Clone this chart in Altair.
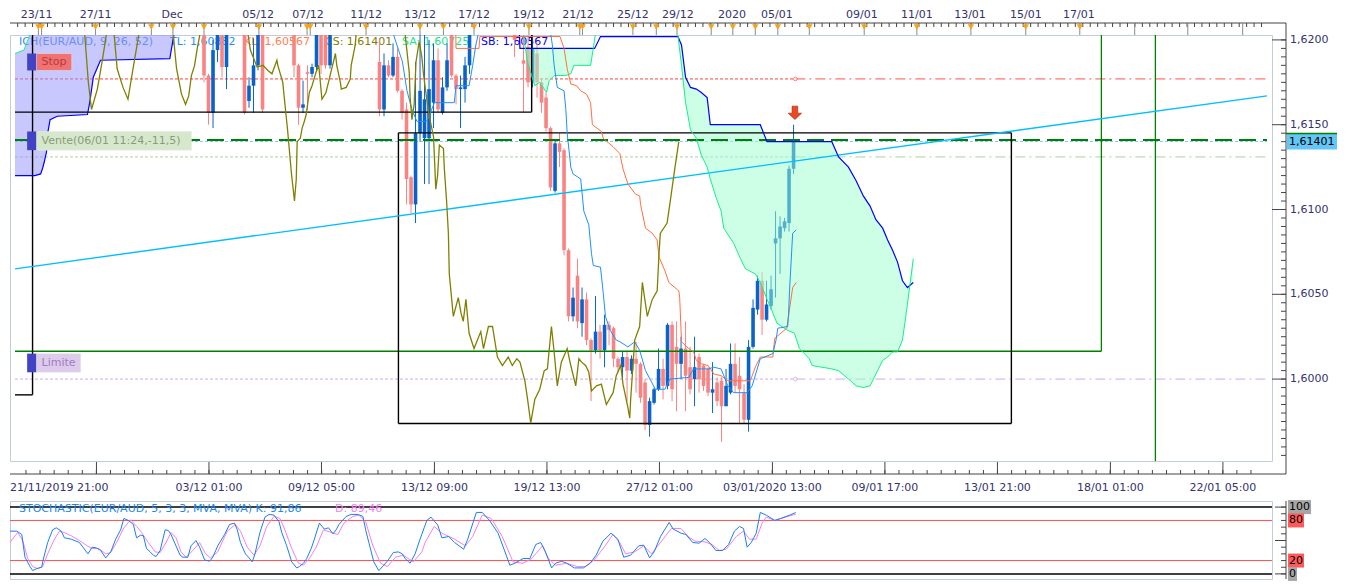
import altair as alt
import numpy as np
import pandas as pd

W, H1, H2 = 1262, 426, 78
XMAX = 278.2
PMIN, PMAX = 1.59517, 1.62029
SMIN, SMAX = -7.6, 109.1
FONT = "DejaVu Sans"
AXC = "#33336e"
TICKC = "#454545"
UP, DOWN = "#0a63c8", "#f98383"

# ---------------- data ----------------
# candles: (bar, open, high, low, close)
candles = [
    (42, 1.6212, 1.6215, 1.6175, 1.6179), (43, 1.6179, 1.6180, 1.6150, 1.6157),
    (44, 1.6157, 1.6200, 1.6148, 1.6194), (45, 1.6194, 1.6215, 1.6187, 1.6210),
    (46, 1.6210, 1.6215, 1.6178, 1.6184), (47, 1.6184, 1.6215, 1.6171, 1.6210),
    (51, 1.6210, 1.6215, 1.6156, 1.6157), (52, 1.6164, 1.6178, 1.6160, 1.6173),
    (53, 1.6173, 1.6201, 1.6157, 1.6185), (54, 1.6185, 1.6215, 1.6182, 1.6210),
    (55, 1.6210, 1.6215, 1.6157, 1.6159),
    (62, 1.6210, 1.6215, 1.6178, 1.6185), (63, 1.6185, 1.6186, 1.6150, 1.6160),
    (64, 1.6160, 1.6176, 1.6157, 1.6162), (65, 1.6181, 1.6185, 1.6159, 1.6180),
    (66, 1.6180, 1.6186, 1.6178, 1.6184), (67, 1.6184, 1.6215, 1.6182, 1.6210),
    (68, 1.6210, 1.6215, 1.6180, 1.6185), (69, 1.6210, 1.6215, 1.6183, 1.6185),
    (70, 1.6185, 1.6215, 1.6183, 1.6210),
    (81, 1.6187, 1.6201, 1.6155, 1.6159), (82, 1.6159, 1.6192, 1.6155, 1.6185),
    (83, 1.6185, 1.6188, 1.6178, 1.6179), (84, 1.6179, 1.6198, 1.6178, 1.6190),
    (85, 1.6190, 1.6195, 1.6169, 1.6170), (86, 1.6170, 1.6171, 1.6153, 1.6157),
    (87, 1.6159, 1.6163, 1.6103, 1.6118), (88, 1.6119, 1.6120, 1.6098, 1.6103),
    (89, 1.6103, 1.6187, 1.6092, 1.6145), (90, 1.6145, 1.6205, 1.6140, 1.6170),
    (91, 1.6142, 1.6205, 1.6115, 1.6165), (92, 1.6142, 1.6200, 1.6115, 1.6171),
    (93, 1.6163, 1.6198, 1.6148, 1.6188), (94, 1.6188, 1.6195, 1.6157, 1.6159),
    (95, 1.6157, 1.6178, 1.6156, 1.6172), (96, 1.6172, 1.6198, 1.6170, 1.6188),
    (97, 1.6205, 1.6210, 1.6178, 1.6179), (98, 1.6179, 1.6180, 1.6162, 1.6171),
    (99, 1.6171, 1.6179, 1.6148, 1.6172), (100, 1.6171, 1.6190, 1.6163, 1.6185),
    (101, 1.6185, 1.6215, 1.6180, 1.6210), (111, 1.6210, 1.6215, 1.6190, 1.6200),
    (113, 1.6188, 1.6205, 1.6157, 1.6186), (114, 1.6196, 1.6205, 1.6172, 1.6175),
    (115, 1.6175, 1.6204, 1.6172, 1.6195), (116, 1.6192, 1.6198, 1.6166, 1.6175),
    (117, 1.6175, 1.6177, 1.6157, 1.6163), (118, 1.6166, 1.6169, 1.6146, 1.6148),
    (119, 1.6148, 1.6149, 1.6111, 1.6113), (120, 1.6111, 1.6141, 1.6110, 1.6139),
    (121, 1.6139, 1.6145, 1.6125, 1.6134), (122, 1.6135, 1.6136, 1.6073, 1.6076),
    (123, 1.6076, 1.6077, 1.6034, 1.6037), (124, 1.6037, 1.6054, 1.6034, 1.6048),
    (125, 1.6061, 1.6071, 1.6030, 1.6034), (126, 1.6033, 1.6054, 1.6025, 1.6047),
    (127, 1.6047, 1.6051, 1.6020, 1.6023), (128, 1.6023, 1.6024, 1.5987, 1.6017),
    (129, 1.6017, 1.6049, 1.6015, 1.6028), (130, 1.6028, 1.6032, 1.6012, 1.6017),
    (131, 1.6017, 1.6038, 1.6007, 1.6032), (132, 1.6032, 1.6034, 1.6020, 1.6029),
    (133, 1.6030, 1.6031, 1.6007, 1.6012), (134, 1.6012, 1.6013, 1.6004, 1.6007),
    (135, 1.6007, 1.6016, 1.6000, 1.6013), (136, 1.6013, 1.6016, 1.5987, 1.6005),
    (137, 1.6005, 1.6014, 1.6003, 1.6012), (138, 1.6012, 1.6022, 1.5992, 1.6009),
    (139, 1.6009, 1.6010, 1.5986, 1.5989), (140, 1.5998, 1.6000, 1.5970, 1.5973),
    (141, 1.5973, 1.5989, 1.5966, 1.5987), (142, 1.5986, 1.5995, 1.5985, 1.5994),
    (143, 1.5994, 1.6018, 1.5993, 1.6006), (144, 1.6006, 1.6012, 1.5988, 1.5996),
    (145, 1.5996, 1.6033, 1.5994, 1.6032), (146, 1.6032, 1.6034, 1.5987, 1.5994),
    (147, 1.6019, 1.6034, 1.5981, 1.6009), (148, 1.6009, 1.6025, 1.6000, 1.6018),
    (149, 1.6018, 1.6034, 1.5981, 1.6002), (150, 1.6007, 1.6019, 1.5991, 1.5994),
    (151, 1.6000, 1.6025, 1.5984, 1.6007), (152, 1.6013, 1.6015, 1.5992, 1.6000),
    (153, 1.6008, 1.6009, 1.5993, 1.5996), (154, 1.6006, 1.6007, 1.5990, 1.5992),
    (155, 1.5992, 1.6010, 1.5980, 1.5994), (156, 1.5998, 1.6001, 1.5984, 1.5987),
    (157, 1.5999, 1.6001, 1.5963, 1.5984), (158, 1.5984, 1.6006, 1.5984, 1.5996),
    (159, 1.5992, 1.6021, 1.5991, 1.6009), (160, 1.6009, 1.6021, 1.5992, 1.5996),
    (161, 1.6002, 1.6013, 1.5974, 1.5994), (162, 1.5992, 1.5997, 1.5974, 1.5976),
    (163, 1.5976, 1.6023, 1.5969, 1.6019), (164, 1.6019, 1.6047, 1.6018, 1.6042),
    (165, 1.6041, 1.6061, 1.6038, 1.6058), (166, 1.6058, 1.6063, 1.6026, 1.6035),
    (167, 1.6035, 1.6058, 1.6034, 1.6044), (168, 1.6043, 1.6061, 1.6041, 1.6053),
    (169, 1.6080, 1.6099, 1.6048, 1.6083), (170, 1.6083, 1.6096, 1.6062, 1.6090),
    (171, 1.6089, 1.6095, 1.6087, 1.6093), (172, 1.6092, 1.6126, 1.6087, 1.6124),
    (173, 1.6124, 1.6150, 1.6121, 1.61401),
]

tenkan = [(83.5, 1.6208), (86.1, 1.6187), (87.1, 1.6170), (88.2, 1.6159), (89.3, 1.6152), (91.5, 1.6152),
          (93.2, 1.6163), (97.6, 1.6163), (98.0, 1.6173), (100.9, 1.6173), (101.7, 1.6185), (102.4, 1.6197),
          (103.5, 1.6210), (118.7, 1.6210), (119.4, 1.6197), (119.8, 1.6185), (120.5, 1.6172), (122.0, 1.6170),
          (122.4, 1.6159), (122.7, 1.6145), (123.5, 1.6125), (124.0, 1.6121), (125.7, 1.6118), (126.4, 1.6099),
          (127.5, 1.6091), (128.1, 1.6074), (128.5, 1.6067), (130.1, 1.6066), (130.7, 1.6051), (131.2, 1.6037),
          (132.2, 1.6029), (133.6, 1.6023), (134.4, 1.6022), (136.2, 1.6019), (137.7, 1.6022), (138.8, 1.6017),
          (140.1, 1.6005), (142.3, 1.5994), (144.4, 1.5994), (145.5, 1.6000), (149.7, 1.6001), (150.8, 1.6006),
          (154.0, 1.6006), (155.3, 1.6007), (156.9, 1.6006), (158.4, 1.5996), (159.7, 1.5992), (162.7, 1.5992),
          (163.8, 1.5996), (165.6, 1.6012), (168.4, 1.6015), (169.1, 1.6023), (169.5, 1.6030), (171.7, 1.6031),
          (171.9, 1.6039), (172.1, 1.6052), (172.8, 1.6086), (173.6, 1.6088)]

kijun = [(97.9, 1.6210), (98.0, 1.6195), (103.1, 1.6195), (103.3, 1.6202), (121.1, 1.6202), (122.0, 1.6195),
         (122.7, 1.6183), (123.5, 1.6174), (124.8, 1.6173), (125.7, 1.6170), (127.0, 1.6168), (127.9, 1.6163),
         (128.3, 1.6150), (130.3, 1.6146), (130.7, 1.6142), (132.9, 1.6137), (134.4, 1.6133), (135.1, 1.6124),
         (136.2, 1.6115), (137.9, 1.6109), (138.8, 1.6108), (139.0, 1.6103), (140.1, 1.6089), (141.6, 1.6086),
         (142.7, 1.6082), (143.1, 1.6072), (144.4, 1.6064), (145.3, 1.6057), (147.5, 1.6052), (147.7, 1.6048),
         (148.1, 1.6022), (149.7, 1.6018), (150.8, 1.6016), (151.4, 1.6011), (152.5, 1.6009), (154.0, 1.6008),
         (155.3, 1.6003), (156.9, 1.6002), (158.4, 1.5999), (163.4, 1.5999), (164.5, 1.6007), (165.6, 1.6013),
         (168.4, 1.6013), (168.8, 1.6024), (171.5, 1.6030), (172.8, 1.6054), (173.6, 1.6057)]

chikou = [(15.0, 1.6210), (15.5, 1.6203), (16.3, 1.6175), (17.0, 1.6159), (18.3, 1.6171), (19.4, 1.6188),
          (20.3, 1.6203), (20.7, 1.6210), (21.8, 1.6210), (22.7, 1.6183), (24.0, 1.6172), (25.1, 1.6165),
          (26.1, 1.6181), (27.5, 1.6203), (27.9, 1.6210), (34.9, 1.6210), (35.9, 1.6183), (37.0, 1.6168),
          (37.9, 1.6162), (38.6, 1.6167), (39.2, 1.6179), (39.9, 1.6185), (40.5, 1.6195), (41.0, 1.6202),
          (41.4, 1.6210), (51.4, 1.6210), (52.3, 1.6194), (53.8, 1.6184), (55.1, 1.6185), (56.2, 1.6182),
          (57.1, 1.6180), (58.2, 1.6188), (58.4, 1.6185), (59.5, 1.6175), (60.1, 1.6159), (60.6, 1.6146),
          (61.4, 1.6122), (62.1, 1.6105), (62.5, 1.6118), (62.7, 1.6140), (63.4, 1.6142), (63.8, 1.6148),
          (64.3, 1.6152), (64.7, 1.6156), (65.4, 1.6169), (66.0, 1.6173), (66.9, 1.6181), (67.5, 1.6185),
          (68.2, 1.6165), (69.1, 1.6169), (70.2, 1.6181), (71.2, 1.6192), (71.5, 1.6185), (72.3, 1.6175),
          (72.5, 1.6171), (73.6, 1.6172), (74.5, 1.6177), (74.7, 1.6185), (75.6, 1.6197), (76.0, 1.6210),
          (86.1, 1.6210), (86.7, 1.6203), (87.6, 1.6181), (87.8, 1.6166), (88.2, 1.6153), (88.7, 1.6162),
          (89.1, 1.6187), (89.8, 1.6199), (90.4, 1.6190), (90.8, 1.6179), (91.5, 1.6165), (92.2, 1.6153),
          (93.0, 1.6143), (93.5, 1.6112), (93.9, 1.6120), (94.3, 1.6138), (95.2, 1.6136), (95.4, 1.6124),
          (95.9, 1.6105), (96.3, 1.6086), (96.5, 1.6062), (97.4, 1.6037), (98.5, 1.6048), (99.1, 1.6039),
          (99.6, 1.6034), (100.2, 1.6047), (100.9, 1.6027), (102.0, 1.6018), (103.5, 1.6028), (104.1, 1.6018),
          (105.2, 1.6031), (106.1, 1.6031), (107.2, 1.6013), (108.3, 1.6008), (109.6, 1.6013), (110.5, 1.6008),
          (111.5, 1.6012), (112.2, 1.6010), (113.3, 1.5999), (113.9, 1.5988), (114.6, 1.5974), (115.5, 1.5988),
          (116.6, 1.5994), (117.6, 1.6005), (118.3, 1.6006), (119.2, 1.6031), (119.8, 1.6016), (120.5, 1.5996),
          (121.4, 1.6010), (122.7, 1.6018), (123.5, 1.6008), (124.6, 1.5996), (125.3, 1.6012), (125.9, 1.6010),
          (126.8, 1.6008), (127.5, 1.6004), (128.1, 1.5993), (129.2, 1.5996), (130.3, 1.5997), (131.4, 1.5985),
          (132.9, 1.5992), (133.6, 1.6002), (134.6, 1.6008), (135.1, 1.5997), (136.2, 1.5983), (136.6, 1.5977),
          (136.8, 1.5988), (137.7, 1.6023), (138.8, 1.6031), (139.4, 1.6057), (140.5, 1.6037), (141.6, 1.6047),
          (142.7, 1.6052), (143.1, 1.6074), (143.4, 1.6086), (144.9, 1.6092), (145.5, 1.6103), (146.6, 1.6124),
          (147.5, 1.6140)]

senkou_a = [(0.0, 1.6192), (2.0, 1.6194), (3.3, 1.6203), (3.9, 1.6210), (112.8, 1.6210), (113.3, 1.6197),
            (113.9, 1.6187), (114.8, 1.6179), (115.5, 1.6173), (116.6, 1.6175), (118.1, 1.6169), (118.7, 1.6176),
            (119.8, 1.6179), (122.4, 1.6179), (123.5, 1.6180), (124.2, 1.6185), (124.8, 1.6185), (127.9, 1.6185),
            (128.5, 1.6195), (129.0, 1.6204), (129.4, 1.6210), (147.0, 1.6210), (147.3, 1.6203), (148.1, 1.6185),
            (149.0, 1.6163), (150.1, 1.6147), (151.4, 1.6142), (152.5, 1.6132), (153.8, 1.6125), (154.5, 1.6118),
            (155.8, 1.6107), (156.9, 1.6099), (157.5, 1.6089), (159.7, 1.6080), (161.2, 1.6071), (162.3, 1.6065),
            (164.5, 1.6062), (165.6, 1.6057), (167.1, 1.6047), (167.8, 1.6043), (169.3, 1.6033), (171.5, 1.6029),
            (173.2, 1.6027), (174.3, 1.6018), (176.5, 1.6012), (177.1, 1.6008), (181.5, 1.6006), (183.0, 1.6005),
            (185.2, 1.6000), (186.9, 1.5996), (188.5, 1.5995), (190.0, 1.5996), (191.3, 1.6003), (192.8, 1.6011),
            (193.9, 1.6013), (195.0, 1.6016), (196.1, 1.6016), (197.2, 1.6023), (198.3, 1.6044), (199.6, 1.6071)]

senkou_b = [(0.0, 1.6120), (4.4, 1.6120), (5.7, 1.6121), (6.1, 1.6124), (6.5, 1.6128), (7.0, 1.6134),
            (7.2, 1.6144), (7.8, 1.6153), (9.4, 1.6155), (16.1, 1.6156), (16.6, 1.6163), (17.4, 1.6178),
            (19.0, 1.6188), (34.4, 1.6189), (35.3, 1.6203), (36.2, 1.6210), (112.0, 1.6210), (112.2, 1.6195),
            (128.8, 1.6195), (130.1, 1.6202), (147.3, 1.6202), (148.1, 1.6197), (149.0, 1.6178), (150.1, 1.6172),
            (151.4, 1.6171), (152.5, 1.6169), (153.8, 1.6166), (154.5, 1.6150), (165.6, 1.6150), (167.1, 1.6140),
            (181.5, 1.6140), (183.0, 1.6131), (185.2, 1.6125), (186.9, 1.6117), (188.5, 1.6108), (190.0, 1.6102),
            (191.3, 1.6094), (192.8, 1.6089), (193.9, 1.6082), (195.0, 1.6076), (196.1, 1.6069), (197.2, 1.6058),
            (198.3, 1.6054), (199.6, 1.6057)]

# cloud fills: (bar, lower, upper)
cloud_lavender = [(0.0, 1.6120, 1.6192), (2.0, 1.6120, 1.6194), (3.3, 1.6120, 1.6203), (4.4, 1.6120, 1.6212),
                  (5.7, 1.6121, 1.6212), (6.1, 1.6124, 1.6212), (6.5, 1.6128, 1.6212), (7.0, 1.6134, 1.6212),
                  (7.2, 1.6144, 1.6212), (7.8, 1.6153, 1.6212), (9.4, 1.6155, 1.6212), (16.1, 1.6156, 1.6212),
                  (16.6, 1.6163, 1.6212), (17.4, 1.6178, 1.6212), (19.0, 1.6188, 1.6212), (34.4, 1.6189, 1.6212),
                  (35.3, 1.6203, 1.6212)]
cloud_green1 = [(113.3, 1.6195, 1.6195), (113.9, 1.6187, 1.6195), (114.8, 1.6179, 1.6195), (115.5, 1.6173, 1.6195),
                (116.6, 1.6175, 1.6195), (118.1, 1.6169, 1.6195), (118.7, 1.6176, 1.6195), (119.8, 1.6179, 1.6195),
                (122.4, 1.6179, 1.6195), (123.5, 1.6180, 1.6195), (124.2, 1.6185, 1.6195), (124.8, 1.6185, 1.6195),
                (127.9, 1.6185, 1.6195), (128.5, 1.6195, 1.6195)]
cloud_green2 = [(147.3, 1.6203, 1.6203), (148.1, 1.6185, 1.6197), (149.0, 1.6163, 1.6178), (150.1, 1.6147, 1.6172),
                (151.4, 1.6142, 1.6171), (152.5, 1.6132, 1.6169), (153.8, 1.6125, 1.6166), (154.5, 1.6118, 1.6150),
                (155.8, 1.6107, 1.6150), (156.9, 1.6099, 1.6150), (157.5, 1.6089, 1.6150), (159.7, 1.6080, 1.6150),
                (161.2, 1.6071, 1.6150), (162.3, 1.6065, 1.6150), (164.5, 1.6062, 1.6150), (165.6, 1.6057, 1.6150),
                (167.1, 1.6047, 1.6140), (167.8, 1.6043, 1.6140), (169.3, 1.6033, 1.6140), (171.5, 1.6029, 1.6140),
                (173.2, 1.6027, 1.6140), (174.3, 1.6018, 1.6140), (176.5, 1.6012, 1.6140), (177.1, 1.6008, 1.6140),
                (181.5, 1.6006, 1.6140), (183.0, 1.6005, 1.6131), (185.2, 1.6000, 1.6125), (186.9, 1.5996, 1.6117),
                (188.5, 1.5995, 1.6108), (190.0, 1.5996, 1.6102), (191.3, 1.6003, 1.6094), (192.8, 1.6011, 1.6089),
                (193.9, 1.6013, 1.6082), (195.0, 1.6016, 1.6076), (196.1, 1.6016, 1.6069), (197.2, 1.6023, 1.6058),
                (198.3, 1.6044, 1.6054), (199.6, 1.6071, 1.6057)]

trendline = [(0.0, 1.6065), (278.2, 1.6167)]
# horizontal levels: (from bar, to bar, price, colour)
levels_dotted = [(0.0, 173.4, 1.6177, "#ff4040"), (0.0, 173.4, 1.6131, "#a9d3a1"), (0.0, 173.4, 1.6000, "#d2a9ef")]
levels_dashdot = [(173.4, 278.2, 1.6177, "#ff5050"), (173.4, 278.2, 1.6131, "#a9d3a1"), (173.4, 278.2, 1.6000, "#d2a9ef")]
level_marks = [(173.4, 1.6177, "#ff5050"), (173.4, 1.6000, "#c8a0e8")]
sell_level = [(0.0, 278.2, 1.6141)]
last_price = [(0.0, 278.2, 1.61401)]
limit_h = [(0.0, 241.4, 1.60164)]
limit_v = [(241.4, 1.60164, 1.6220), (253.4, 1.5900, 1.6300)]
box_h = [(0.0, 114.8, 1.61574), (85.2, 221.4, 1.61452), (85.2, 221.4, 1.59738), (0.0, 3.9, 1.59907)]
box_v = [(114.8, 1.61574, 1.6220), (85.2, 1.59738, 1.61452), (221.4, 1.59738, 1.61452), (3.9, 1.59907, 1.6220)]
sell_arrow = [(173.3, 1.6157)]

order_tags = [  # (name, box end bar, price low, price high, box colour, text colour, text price)
    ("Stop", 12.6, 1.6182, 1.6192, "#f07272", "#b83a3a", 1.6187),
    ("Vente(06/01 11:24,-11,5)", 39.2, 1.6135, 1.6146, "#d6e8cb", "#8c9a7c", 1.61405),
    ("Limite", 14.6, 1.6004, 1.6015, "#dccbea", "#a27cc2", 1.60095),
]

legend_items = [("ICH(EUR/AUD, 9, 26, 52)", 9, "#3a8ee6"), ("TL: 1,60882", 160, "#1e90ff"),
                ("KL: 1,60567", 234, "#ff7f50"), ("CS: 1,61401", 315, "#808000"),
                ("SA: 1,60725", 392, "#19e68a"), ("SB: 1,60567", 471, "#0000ff")]

top_labels = [("23/11", 4.8), ("27/11", 17.9), ("Dec", 34.9), ("05/12", 54.0), ("07/12", 65.1), ("11/12", 78.0),
              ("13/12", 90.0), ("17/12", 102.0), ("19/12", 114.2), ("21/12", 125.1), ("25/12", 137.3),
              ("29/12", 147.3), ("2020", 159.3), ("05/01", 169.3), ("09/01", 188.2), ("11/01", 200.4),
              ("13/01", 212.2), ("15/01", 224.6), ("17/01", 236.4)]
event_marks = [5.2, 5.9, 17.9, 30.3, 35.1, 42.0, 54.2, 64.9, 65.6, 78.0, 90.0, 95.2, 102.0, 114.2, 125.5, 126.1,
               137.3, 142.5, 147.1, 154.7, 159.5, 164.5, 169.5, 176.5, 188.7, 200.4, 212.4, 224.6, 236.6]
top_major_extra = [248.8, 260.6, 272.8]

bottom_labels = ["21/11/2019 21:00", "03/12 01:00", "09/12 05:00", "13/12 09:00", "19/12 13:00", "27/12 01:00",
                 "03/01/2020 13:00", "09/01 17:00", "13/01 21:00", "18/01 01:00", "22/01 05:00"]
bottom_ticks = [18.1, 43.1, 68.1, 93.2, 118.2, 143.2, 168.3, 193.3, 218.3, 243.4, 268.4]
price_labels = [1.600, 1.605, 1.610, 1.615, 1.620]
price_label_text = ["1,6000", "1,6050", "1,6100", "1,6150", "1,6200"]

stoch_k = [(0, 64), (1.5, 64), (2.6, 59), (3.3, 25), (4.4, 11), (5.0, 5), (5.9, 8), (7.0, 10), (7.2, 18), (8.3, 47),
           (9.4, 66), (10.2, 69), (11.3, 64), (12.0, 54), (13.5, 52), (15.3, 47), (16.3, 38), (17.2, 30), (18.1, 40),
           (19.0, 39), (20.0, 35), (21.1, 24), (22.2, 33), (23.3, 52), (24.4, 66), (25.1, 83), (26.1, 80), (27.2, 74),
           (27.9, 54), (28.8, 58), (29.4, 57), (30.1, 38), (30.9, 33), (31.6, 28), (32.2, 26), (33.1, 35), (34.2, 66),
           (34.9, 65), (35.5, 59), (36.4, 45), (37.5, 28), (38.1, 25), (39.2, 25), (39.9, 42), (41.0, 50), (41.8, 40),
           (42.9, 21), (44.0, 19), (44.7, 25), (45.8, 42), (47.3, 59), (48.4, 74), (49.5, 76), (50.1, 66), (50.8, 47),
           (51.9, 30), (52.7, 24), (53.4, 18), (54.0, 30), (55.1, 62), (56.2, 85), (57.1, 89), (58.2, 88), (59.3, 78),
           (59.9, 62), (61.0, 42), (62.1, 18), (63.2, 9), (63.8, 11), (64.7, 16), (65.4, 23), (66.4, 38), (67.1, 52),
           (68.2, 76), (69.3, 67), (70.2, 69), (71.2, 60), (71.9, 66), (72.5, 74), (74.1, 86), (75.2, 89), (76.7, 89),
           (77.8, 86), (78.4, 66), (79.1, 47), (80.2, 18), (81.3, 5), (82.4, 13), (83.4, 21), (84.5, 32), (85.6, 33),
           (86.5, 30), (87.1, 23), (88.2, 16), (89.3, 30), (90.4, 52), (91.3, 69), (91.9, 80), (92.8, 85), (94.3, 73),
           (95.2, 54), (96.7, 56), (98.0, 47), (100.0, 37), (100.9, 52), (102.8, 92), (104.1, 92), (105.7, 80),
           (107.6, 61), (108.9, 37), (110.2, 13), (111.3, 16), (113.1, 23), (114.6, 23), (115.9, 44), (117.0, 47),
           (117.9, 35), (119.4, 9), (120.3, 16), (121.6, 19), (122.7, 16), (124.4, 9), (126.4, 9), (127.9, 16),
           (129.2, 28), (130.7, 49), (132.5, 61), (134.0, 52), (135.3, 25), (136.8, 28), (138.6, 42), (139.7, 43),
           (141.0, 24), (142.0, 33), (143.4, 56), (145.3, 77), (146.2, 67), (147.9, 61), (149.0, 59), (150.5, 47),
           (151.9, 46), (153.2, 53), (154.2, 47), (155.6, 35), (157.1, 35), (158.4, 44), (159.7, 64), (160.8, 71),
           (161.7, 68), (162.5, 40), (163.4, 47), (164.5, 61), (165.4, 92), (166.7, 88), (168.6, 80), (169.9, 83),
           (171.9, 88), (173.2, 91.86)]

stoch_d = [(0, 47), (1.1, 57), (1.7, 62), (2.8, 50), (3.9, 23), (5.0, 11), (6.1, 8), (7.2, 11), (8.3, 30), (9.8, 52),
           (10.9, 64), (12.0, 62), (13.5, 57), (15.3, 50), (17.0, 42), (18.1, 38), (19.6, 38), (21.1, 30), (22.2, 32),
           (23.5, 47), (25.1, 69), (26.6, 81), (27.9, 71), (29.0, 62), (30.5, 47), (32.0, 33), (33.1, 32), (34.4, 47),
           (35.5, 62), (36.6, 54), (37.7, 33), (38.8, 25), (40.3, 35), (41.8, 47), (43.1, 30), (44.2, 24), (45.8, 33),
           (47.9, 64), (49.7, 74), (50.8, 64), (52.3, 40), (53.8, 28), (55.1, 42), (56.6, 71), (58.2, 86), (59.5, 83),
           (60.6, 66), (62.1, 38), (63.6, 16), (64.7, 13), (66.0, 23), (67.5, 40), (69.1, 66), (70.8, 62), (72.3, 59),
           (73.6, 76), (75.6, 86), (76.9, 88), (78.4, 78), (80.0, 42), (81.7, 16), (83.2, 11), (85.0, 25), (86.7, 28),
           (88.9, 18), (90.8, 33), (91.5, 47), (93.5, 71), (95.2, 61), (98.0, 52), (100.4, 42), (102.0, 56),
           (104.1, 88), (106.1, 83), (108.5, 56), (110.9, 18), (113.1, 16), (115.0, 23), (117.4, 42), (118.7, 23),
           (120.3, 13), (122.7, 16), (125.1, 11), (126.8, 11), (128.8, 21), (131.2, 42), (132.9, 59), (134.4, 47),
           (135.7, 30), (137.7, 33), (139.7, 42), (141.4, 30), (143.4, 47), (145.8, 68), (147.9, 68), (149.5, 56),
           (151.0, 49), (153.2, 48), (154.7, 44), (156.4, 35), (157.9, 37), (160.1, 56), (161.7, 64), (163.0, 52),
           (164.5, 52), (165.8, 76), (166.7, 85), (168.6, 80), (171.0, 85), (173.2, 89.46)]

stoch_tags = [("100", 100, 23, "#a6a6a6"), ("80", 80, 16, "#ff5a5a"), ("20", 20, 16, "#ff5a5a"), ("0", 0, 9, "#a6a6a6")]

# ---------------- helpers ----------------
xs = alt.Scale(domain=[0, XMAX], nice=False, zero=False)
ps = alt.Scale(domain=[PMIN, PMAX], nice=False, zero=False)
ss = alt.Scale(domain=[SMIN, SMAX], nice=False, zero=False)
ONE = pd.DataFrame({"z": [0]})


def X(f="i"):
    return alt.X(f"{f}:Q", scale=xs, axis=None)


def P(f="p"):
    return alt.Y(f"{f}:Q", scale=ps, axis=None)


def S(f="v"):
    return alt.Y(f"{f}:Q", scale=ss, axis=None)


def pxrule(x, x2, y, y2, color=TICKC, width=1.0):
    return alt.Chart(ONE).mark_rule(color=color, strokeWidth=width).encode(
        x=alt.value(x), x2=alt.value(x2), y=alt.value(y), y2=alt.value(y2))


def line_layer(rows, color, width=1.0, scale="p"):
    df = pd.DataFrame(rows, columns=["i", "p"])
    df["k"] = range(len(df))
    y = P("p") if scale == "p" else S("p")
    return alt.Chart(df).mark_line(color=color, strokeWidth=width, clip=True).encode(
        x=X(), y=y, order="k:Q")


def cloud_layer(rows, color):
    df = pd.DataFrame(rows, columns=["i", "lo", "hi"])
    return alt.Chart(df).mark_area(color=color, opacity=0.5, clip=True).encode(
        x=X(), y=P("lo"), y2="hi:Q")


def hseg(rows, width=1.0, dash=None, color=None):
    cols = ["i0", "i1", "p", "col"] if color is None else ["i0", "i1", "p"]
    df = pd.DataFrame(rows, columns=cols)
    kw = dict(strokeWidth=width, clip=True)
    if dash:
        kw["strokeDash"] = dash
    if color is not None:
        kw["color"] = color
        return alt.Chart(df).mark_rule(**kw).encode(x=X("i0"), x2="i1:Q", y=P("p"))
    return alt.Chart(df).mark_rule(**kw).encode(x=X("i0"), x2="i1:Q", y=P("p"),
                                                color=alt.Color("col:N", scale=None))


def vseg(rows, color, width=1.0):
    df = pd.DataFrame(rows, columns=["i", "p0", "p1"])
    return alt.Chart(df).mark_rule(color=color, strokeWidth=width, clip=True).encode(
        x=X("i"), y=P("p0"), y2="p1:Q")


# ---------------- price panel ----------------
L = []
for txt, px, col in legend_items:
    L.append(alt.Chart(ONE).mark_text(text=txt, align="left", baseline="middle", font=FONT, fontSize=11,
                                      color=col).encode(x=alt.value(px), y=alt.value(7)))

L.append(hseg(levels_dotted, 1.0, [3, 2]))
L.append(hseg(levels_dashdot, 1.0, [10, 4, 2, 4]))
L.append(hseg(last_price, 1.0, [3, 2], color="#86c9f2"))

cdf = pd.DataFrame(candles, columns=["i", "o", "h", "l", "c"])
cdf["d"] = np.where(cdf.c >= cdf.o, "up", "down")
ccol = alt.Color("d:N", scale=alt.Scale(domain=["up", "down"], range=[UP, DOWN]), legend=None)
L.append(alt.Chart(cdf).mark_rule(strokeWidth=1, clip=True).encode(x=X(), y=P("l"), y2="h:Q", color=ccol))
L.append(alt.Chart(cdf).mark_bar(size=3.6, clip=True).encode(x=X(), y=P("o"), y2="c:Q", color=ccol))

L.append(cloud_layer(cloud_lavender, "#9191ff"))
L.append(cloud_layer(cloud_green1, "#99ffcb"))
L.append(cloud_layer(cloud_green2, "#99ffcb"))

L.append(hseg(sell_level, 2.0, [17, 7], color="#008000"))
L.append(hseg(limit_h, 1.4, color="#008000"))
L.append(vseg(limit_v, "#008000", 1.3))
L.append(hseg(box_h, 1.4, color="#000000"))
L.append(vseg(box_v, "#000000", 1.4))
L.append(line_layer(trendline, "#00bfff", 1.4))

L.append(line_layer(senkou_b, "#0000ff", 1.2))
L.append(line_layer(senkou_a, "#14f08a", 1.0))
L.append(line_layer(kijun, "#ff7040", 1.0))
L.append(line_layer(tenkan, "#1e90ff", 1.0))
L.append(line_layer(chikou, "#808000", 1.3))

mdf = pd.DataFrame(level_marks, columns=["i", "p", "col"])
L.append(alt.Chart(mdf).mark_point(shape="circle", size=14, filled=False, fill="white", strokeWidth=1).encode(
    x=X(), y=P("p"), stroke=alt.Color("col:N", scale=None)))

adf = pd.DataFrame(sell_arrow, columns=["i", "p"])
L.append(alt.Chart(adf).mark_point(
    shape="M-0.42,-1L0.42,-1L0.42,0.05L1,0.05L0,1L-1,0.05L-0.42,0.05Z", filled=True, fill="#ea4a1f",
    stroke="#a81c0c", strokeWidth=0.6, size=180, opacity=1).encode(x=X(), y=P("p")))

for name, i1, p0, p1, boxc, txtc, pt in order_tags:
    L.append(alt.Chart(pd.DataFrame({"i0": [2.7], "i1": [4.8], "p0": [p0], "p1": [p1]})).mark_rect(
        color="#4242c4").encode(x=X("i0"), x2="i1:Q", y=P("p0"), y2="p1:Q"))
    L.append(alt.Chart(pd.DataFrame({"i0": [4.8], "i1": [i1], "p0": [p0], "p1": [p1]})).mark_rect(
        color=boxc, stroke="#e8e8e8", strokeWidth=0.5).encode(x=X("i0"), x2="i1:Q", y=P("p0"), y2="p1:Q"))
    L.append(alt.Chart(pd.DataFrame({"i": [5.9], "p": [pt]})).mark_text(
        text=name, align="left", baseline="middle", font=FONT, fontSize=11, color=txtc).encode(x=X(), y=P("p")))

# top time strip
L.append(pxrule(0, W + 14, -12, -12))
top_minor = pd.DataFrame({"i": np.arange(0.6, XMAX, 1.655)})
L.append(alt.Chart(top_minor).mark_rule(color=TICKC).encode(x=X(), y=alt.value(-12), y2=alt.value(-8)))
top_major = pd.DataFrame({"i": event_marks + top_major_extra})
L.append(alt.Chart(top_major).mark_rule(color="#8a8a8a").encode(x=X(), y=alt.value(-12), y2=alt.value(0)))
L.append(alt.Chart(pd.DataFrame({"i": event_marks})).mark_point(
    shape="triangle-down", filled=True, color="#f5a31c", size=42, opacity=1).encode(x=X(), y=alt.value(-8)))
L.append(alt.Chart(pd.DataFrame(top_labels, columns=["t", "i"])).mark_text(
    font=FONT, fontSize=11, color=AXC, baseline="middle").encode(x=X(), y=alt.value(-20), text="t:N"))

# right price axis frame, ticks and labels
L.append(pxrule(W + 14, W + 14, -12, H1 + 13))
minor_p = pd.DataFrame({"p": np.round(np.arange(1.5955, 1.62026, 0.0005), 4)})
L.append(alt.Chart(minor_p).mark_rule(color=TICKC).encode(y=P("p"), x=alt.value(W + 9), x2=alt.value(W + 14)))
plab = pd.DataFrame({"p": price_labels, "t": price_label_text})
L.append(alt.Chart(plab).mark_rule(color=TICKC).encode(y=P("p"), x=alt.value(W), x2=alt.value(W + 14)))
L.append(alt.Chart(plab).mark_text(align="left", baseline="middle", font=FONT, fontSize=11, color=AXC).encode(
    y=P("p"), x=alt.value(W + 18), text="t:N"))
ph = 8 * (PMAX - PMIN) / H1
L.append(alt.Chart(pd.DataFrame({"p0": [1.61401 - ph], "p1": [1.61401 + ph]})).mark_rect(color="#62c6f6").encode(
    x=alt.value(W + 15), x2=alt.value(W + 65), y=P("p0"), y2="p1:Q"))
L.append(alt.Chart(pd.DataFrame({"p": [1.61401 + ph]})).mark_rule(color="#008000", strokeWidth=1.5).encode(
    x=alt.value(W + 14), x2=alt.value(W + 65), y=P("p")))
L.append(alt.Chart(pd.DataFrame({"p": [1.61401]})).mark_text(
    text="1,61401", align="left", baseline="middle", font=FONT, fontSize=11, color="#000000").encode(
    x=alt.value(W + 17), y=P("p")))

# bottom time axis
L.append(pxrule(0, W + 14, H1 + 13, H1 + 13))
bmin = [18.08 + 25.03 * k / 8 for k in range(-5, 83)]
bmin = [b for b in bmin if 0 <= b <= XMAX]
L.append(alt.Chart(pd.DataFrame({"i": bmin})).mark_rule(color=TICKC).encode(
    x=X(), y=alt.value(H1 + 9), y2=alt.value(H1 + 13)))
L.append(alt.Chart(pd.DataFrame({"i": bottom_ticks})).mark_rule(color=TICKC).encode(
    x=X(), y=alt.value(H1 + 1), y2=alt.value(H1 + 13)))
L.append(alt.Chart(pd.DataFrame({"i": bottom_ticks[1:], "t": bottom_labels[1:]})).mark_text(
    font=FONT, fontSize=11, color=AXC, baseline="middle").encode(x=X(), y=alt.value(H1 + 27), text="t:N"))
L.append(alt.Chart(ONE).mark_text(text=bottom_labels[0], align="left", baseline="middle", font=FONT,
                                  fontSize=11, color=AXC).encode(x=alt.value(0), y=alt.value(H1 + 27)))

price = alt.layer(*L).properties(width=W, height=H1)

# ---------------- stochastic panel ----------------
S_L = []
for lv, col, wd in [(100, "#000000", 1.5), (0, "#000000", 1.5), (80, "#ff4d4d", 1.0), (20, "#ff4d4d", 1.0)]:
    S_L.append(alt.Chart(pd.DataFrame({"v": [lv]})).mark_rule(color=col, strokeWidth=wd).encode(
        y=S("v"), x=alt.value(0), x2=alt.value(W)))
S_L.append(line_layer(stoch_d, "#f47ff4", 1.0, scale="s"))
S_L.append(line_layer(stoch_k, "#1a7ff0", 1.0, scale="s"))
S_L.append(alt.Chart(ONE).mark_text(text="STOCHASTIC(EUR/AUD, 5, 3, 3, MVA, MVA)  K: 91,86", align="left",
                                    baseline="middle", font=FONT, fontSize=11, color="#1e88f0").encode(
    x=alt.value(9), y=alt.value(8)))
S_L.append(alt.Chart(ONE).mark_text(text="D: 89,46", align="left", baseline="middle", font=FONT, fontSize=11,
                                    color="#f37ff3").encode(x=alt.value(325), y=alt.value(8)))
S_L.append(pxrule(W + 14, W + 14, 0, H2))
S_L.append(alt.Chart(pd.DataFrame({"v": list(range(0, 101, 10))})).mark_rule(color=TICKC).encode(
    y=S("v"), x=alt.value(W + 9), x2=alt.value(W + 14)))
S_L.append(alt.Chart(pd.DataFrame({"v": [0, 50, 100]})).mark_rule(color=TICKC).encode(
    y=S("v"), x=alt.value(W + 3), x2=alt.value(W + 14)))
sh = 7 * (SMAX - SMIN) / H2
for t, v, w, col in stoch_tags:
    S_L.append(alt.Chart(pd.DataFrame({"v0": [v - sh], "v1": [v + sh]})).mark_rect(color=col).encode(
        x=alt.value(W + 16), x2=alt.value(W + 16 + w), y=S("v0"), y2="v1:Q"))
    S_L.append(alt.Chart(pd.DataFrame({"v": [v]})).mark_text(
        text=t, align="left", baseline="middle", font=FONT, fontSize=11, color="#000000").encode(
        x=alt.value(W + 17), y=S("v")))

stoch = alt.layer(*S_L).properties(width=W, height=H2)

chart = alt.vconcat(price, stoch, spacing=5).properties(
    padding={"left": 0, "top": 0, "right": 0, "bottom": 0}, background="white"
).configure_view(stroke="#c3cdda", strokeWidth=1)

chart.save("out.html", embed_options={"renderer": "svg", "actions": False})
